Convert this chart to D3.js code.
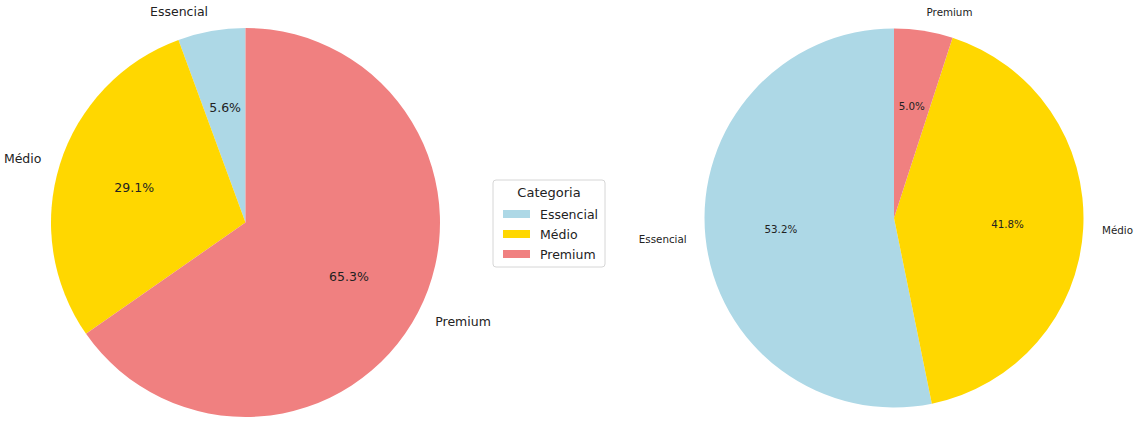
<!DOCTYPE html>
<html>
<head>
<meta charset="utf-8">
<script src="https://cdn.jsdelivr.net/npm/d3@7"></script>
<style>
  html, body { margin: 0; padding: 0; background: #ffffff; }
  svg { display: block; font-family: "DejaVu Sans", sans-serif; }
</style>
</head>
<body>
<svg id="chart" width="1136" height="422"></svg>
<script>
// Category names and colours shared by both pies and the legend
const categories = ["Essencial", "Médio", "Premium"];
const colors = ["#ADD8E6", "#FFD700", "#F08080"];

// Share (%) of each category in the two pies
const leftValues = [5.6, 29.1, 65.3];
const rightValues = [53.2, 41.8, 5.0];

const legendTitle = "Categoria";

const svg = d3.select("#chart");
const color = d3.scaleOrdinal().domain(categories).range(colors);

function drawPie(values, cx, cy, r, fontSize) {
  const data = categories.map((c, i) => ({ cat: c, value: values[i] }));
  // start at 12 o'clock and go counter-clockwise
  const pie = d3.pie().sort(null).value(d => d.value)
    .startAngle(0).endAngle(-2 * Math.PI);
  const arcs = pie(data);
  const arc = d3.arc().innerRadius(0).outerRadius(r);

  const g = svg.append("g").attr("transform", `translate(${cx},${cy})`);

  g.selectAll("path.slice").data(arcs).join("path")
    .attr("class", "slice")
    .attr("d", arc)
    .attr("fill", d => color(d.data.cat));

  const mid = d => (d.startAngle + d.endAngle) / 2;

  // percentage labels at 0.6 r
  g.selectAll("text.pct").data(arcs).join("text")
    .attr("class", "pct")
    .attr("x", d => 0.6 * r * Math.sin(mid(d)))
    .attr("y", d => -0.6 * r * Math.cos(mid(d)))
    .attr("text-anchor", "middle")
    .attr("dominant-baseline", "central")
    .attr("font-size", fontSize)
    .attr("fill", "#222")
    .text(d => d.data.value.toFixed(1) + "%");

  // category labels at 1.1 r
  g.selectAll("text.lbl").data(arcs).join("text")
    .attr("class", "lbl")
    .attr("x", d => 1.1 * r * Math.sin(mid(d)))
    .attr("y", d => -1.1 * r * Math.cos(mid(d)))
    .attr("text-anchor", d => Math.sin(mid(d)) > 0 ? "start" : "end")
    .attr("dominant-baseline", "central")
    .attr("font-size", fontSize)
    .attr("fill", "#222")
    .text(d => d.data.cat);
}

drawPie(leftValues, 245.5, 222.5, 194.5, 12.5);
drawPie(rightValues, 894, 218, 189.5, 10.3);

// legend
const lg = svg.append("g").attr("transform", "translate(493,180)");
lg.append("rect")
  .attr("width", 112).attr("height", 87)
  .attr("rx", 3).attr("ry", 3)
  .attr("fill", "#fff").attr("stroke", "#d6d6d6").attr("stroke-width", 1);
lg.append("text")
  .attr("x", 56).attr("y", 12)
  .attr("text-anchor", "middle").attr("dominant-baseline", "central")
  .attr("font-size", 13).attr("fill", "#222")
  .text(legendTitle);
const items = lg.selectAll("g.item").data(categories).join("g")
  .attr("class", "item")
  .attr("transform", (d, i) => `translate(0,${34 + i * 20})`);
items.append("rect")
  .attr("x", 10).attr("y", -4).attr("width", 27).attr("height", 8)
  .attr("fill", d => color(d));
items.append("text")
  .attr("x", 47).attr("y", 0)
  .attr("dominant-baseline", "central")
  .attr("font-size", 12.5).attr("fill", "#222")
  .text(d => d);
</script>
</body>
</html>
